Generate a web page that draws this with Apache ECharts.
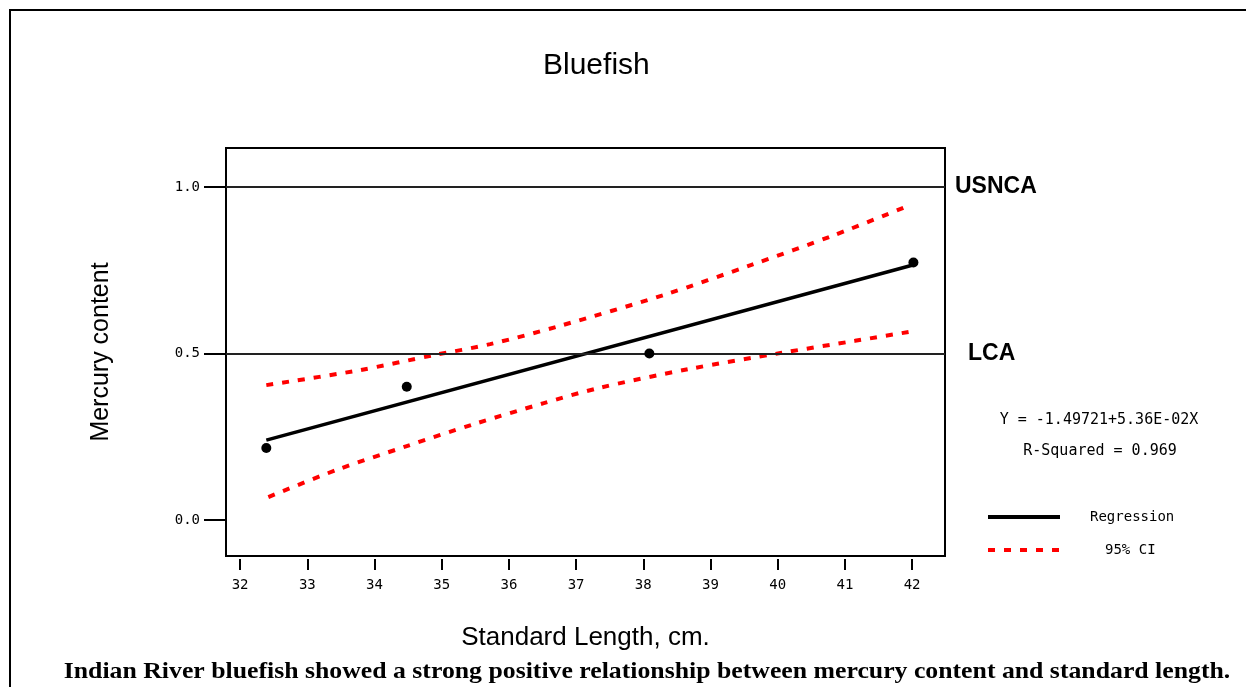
<!DOCTYPE html>
<html>
<head>
<meta charset="utf-8">
<script src="https://cdn.jsdelivr.net/npm/echarts@6/dist/echarts.min.js"></script>
<style>
  html, body { margin: 0; padding: 0; background: #fff; }
  #chart { width: 1246px; height: 687px; }
</style>
</head>
<body>
<div id="chart"></div>
<script>
// observed fish (standard length cm, mercury content)
const lengthPts = [32.39, 34.48, 38.09, 42.02];
const mercuryPts = [0.216, 0.40, 0.50, 0.773];

// regression line ends
const regX = [32.39, 42.0];
const regY = [0.24, 0.765];

// 95% confidence band
const ciUpperX = [32.39, 33.78, 34.88, 35.72, 36.76, 38.31, 39.61, 40.85, 41.90];
const ciUpperY = [0.405, 0.450, 0.495, 0.528, 0.583, 0.676, 0.766, 0.856, 0.940];
const ciLowerX = [32.42, 33.43, 34.48, 35.48, 36.52, 37.33, 38.67, 40.06, 41.15, 41.96];
const ciLowerY = [0.069, 0.150, 0.222, 0.288, 0.351, 0.396, 0.453, 0.502, 0.538, 0.565];

const xTicks = [32, 33, 34, 35, 36, 37, 38, 39, 40, 41, 42];
const yTicks = [0, 0.5, 1.0];

// reference levels
const usnca = 1.0;
const lca = 0.5;

const zip = (xs, ys) => xs.map((x, i) => [x, ys[i]]);

const mono = 'DejaVu Sans Mono';
const sans = 'Liberation Sans';

var myChart = echarts.init(document.getElementById('chart'), null, { renderer: 'canvas' });

var option = {
  animation: false,
  backgroundColor: '#fff',
  title: {
    text: 'Bluefish',
    left: 538,
    top: 46,
    textStyle: { fontFamily: sans, fontWeight: 'normal', fontSize: 30, color: '#000' }
  },
  grid: {
    left: 226, top: 148, right: 301, bottom: 131,
    show: true, borderColor: '#000', borderWidth: 2
  },
  legend: {
    orient: 'vertical',
    left: 986,
    top: 510,
    padding: 0,
    itemWidth: 72,
    itemHeight: 14,
    itemGap: 19,
    itemStyle: { opacity: 0 },
    lineStyle: { width: 4 },
    textStyle: { fontFamily: mono, fontSize: 14, color: '#000', padding: [0, 0, 0, 25] },
    data: [
      { name: 'Regression' },
      { name: '95% CI', textStyle: { padding: [0, 0, 0, 40] } }
    ]
  },
  xAxis: {
    type: 'value',
    min: 31.79,
    max: 42.49,
    offset: 3,
    splitLine: { show: false },
    axisLine: { show: false, onZero: false },
    axisTick: { show: true, length: 11, customValues: xTicks, lineStyle: { color: '#000', width: 2 } },
    axisLabel: { customValues: xTicks, margin: 19, fontFamily: mono, fontSize: 14, color: '#000' },
    name: 'Standard Length, cm.',
    nameLocation: 'middle',
    nameGap: 66,
    nameTextStyle: { fontFamily: sans, fontSize: 26, color: '#000' }
  },
  yAxis: {
    type: 'value',
    min: -0.108,
    max: 1.117,
    splitLine: { show: false },
    axisLine: { show: false, onZero: false },
    axisTick: { show: true, length: 22, customValues: yTicks, lineStyle: { color: '#000', width: 2 } },
    axisLabel: {
      customValues: yTicks, margin: 26, fontFamily: mono, fontSize: 14, color: '#000',
      formatter: v => v.toFixed(1)
    },
    name: 'Mercury content',
    nameLocation: 'middle',
    nameRotate: 90,
    nameGap: 112,
    nameTextStyle: { fontFamily: sans, fontSize: 25, color: '#000' }
  },
  series: [
    {
      name: 'Regression',
      type: 'line',
      data: zip(regX, regY),
      symbol: 'none',
      lineStyle: { color: '#000', width: 3.5 },
      itemStyle: { color: '#000' },
      z: 4,
      markLine: {
        silent: true,
        symbol: 'none',
        lineStyle: { color: '#222', width: 2, type: 'solid' },
        label: {
          position: 'end', color: '#000', fontFamily: sans, fontWeight: 'bold', fontSize: 23
        },
        data: [
          { yAxis: usnca, label: { formatter: 'USNCA', distance: 10 } },
          { yAxis: lca, label: { formatter: 'LCA', distance: 23 } }
        ]
      }
    },
    {
      name: '95% CI',
      type: 'line',
      data: zip(ciUpperX, ciUpperY),
      symbol: 'none',
      smooth: 0.3,
      lineStyle: { color: '#ff0000', width: 4, type: [7, 9] },
      itemStyle: { color: '#ff0000' },
      z: 3
    },
    {
      name: '95% CI',
      type: 'line',
      data: zip(ciLowerX, ciLowerY),
      symbol: 'none',
      smooth: 0.3,
      lineStyle: { color: '#ff0000', width: 4, type: [7, 9] },
      itemStyle: { color: '#ff0000' },
      z: 3
    },
    {
      name: 'Observed',
      type: 'scatter',
      data: zip(lengthPts, mercuryPts),
      symbol: 'circle',
      symbolSize: 10,
      itemStyle: { color: '#000', opacity: 1 },
      z: 5
    }
  ],
  graphic: [
    {
      type: 'polyline',
      shape: { points: [[10, 687], [10, 10], [1246, 10]] },
      style: { stroke: '#000', lineWidth: 2, fill: null }
    },
    {
      type: 'text',
      x: 1099, y: 420,
      style: {
        text: 'Y = -1.49721+5.36E-02X',
        fontFamily: mono, fontSize: 15, fill: '#000',
        textAlign: 'center', textVerticalAlign: 'middle'
      }
    },
    {
      type: 'text',
      x: 1100, y: 451,
      style: {
        text: 'R-Squared = 0.969',
        fontFamily: mono, fontSize: 15, fill: '#000',
        textAlign: 'center', textVerticalAlign: 'middle'
      }
    },
    {
      type: 'text',
      x: 647, y: 672,
      scaleX: 1.12,
      style: {
        text: 'Indian River bluefish showed a strong positive relationship between mercury content and standard length.',
        fontFamily: 'Liberation Serif', fontWeight: 'bold', fontSize: 23, fill: '#000',
        textAlign: 'center', textVerticalAlign: 'middle'
      }
    }
  ]
};

myChart.setOption(option);
</script>
</body>
</html>
